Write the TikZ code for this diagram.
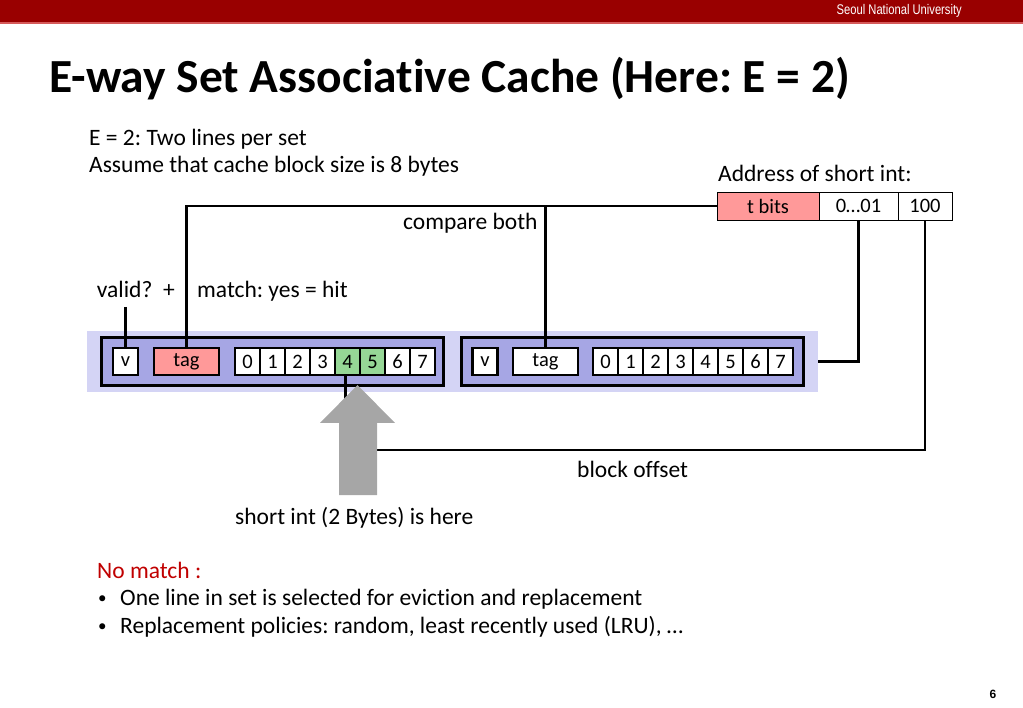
\documentclass[tikz,border=0pt]{standalone}
\usepackage{fontspec}
\setmainfont{Carlito}[Ligatures={NoCommon,NoContextual}]
\newfontfamily\barfont{Liberation Sans}
\usetikzlibrary{calc}

\definecolor{snured}{RGB}{153,0,0}
\definecolor{snulight}{RGB}{214,90,90}
\definecolor{tagred}{RGB}{255,153,153}
\definecolor{hitgreen}{RGB}{150,215,150}
\definecolor{linefill}{RGB}{166,166,228}
\definecolor{setfill}{RGB}{212,212,245}
\definecolor{arrowgray}{RGB}{166,166,166}
\definecolor{missred}{RGB}{192,0,0}

\newcommand\bodyfont{\fontsize{23.5}{28}\selectfont}
\newcommand\cellfont{\fontsize{20.5}{24}\selectfont}
\frenchspacing

\tikzset{
  wire/.style={line width=2.2pt},
  txt/.style={anchor=base west, inner sep=0, font=\bodyfont},
  cell/.style={draw, line width=2.2pt, fill=white, minimum width=25pt,
    minimum height=27pt, inner sep=0, font=\cellfont},
  linebox/.style={draw, line width=3pt, fill=linefill, minimum width=342pt,
    minimum height=48pt, inner sep=0},
  addr/.style={draw, line width=0.8pt, fill=white, minimum height=28pt,
    inner sep=0, font=\cellfont},
}

\begin{document}
\begin{tikzpicture}[x=1pt, y=-1pt]
			%%%%% START %%%%%
			\useasboundingbox (0,0) rectangle (1023,708);
			
			% header bar
			\fill[snured] (0,0) rectangle (1023,22);
			\fill[snulight] (0,22) rectangle (1023,24);
			\node[anchor=east, inner sep=0, text=white] (uni) at (962,11)
				{\scalebox{0.8}[1]{\barfont\fontsize{14}{16}\selectfont Seoul National University}};
			
			\node[anchor=base west, inner sep=0, font=\fontsize{47.5}{50}\selectfont\bfseries] (title) at (49,93)
				{E-way Set Associative Cache (Here: E = 2)};
			
			\node[txt] (lines) at (89,146) {E = 2: Two lines per set};
			\node[txt] (bsize) at (89,173) {Assume that cache block size is 8 bytes};
			
			% address
			\node[txt] (addrlbl) at (718,182) {Address of short int:};
			\node[addr, fill=tagred, minimum width=102pt] (tbits) at (768,206) {t bits};
			\node[addr, minimum width=79pt] (sidx) at (858.5,206) {0\ldots01};
			\node[addr, minimum width=54pt] (boff) at (925,206) {100};
			
			% the set
			\node[fill=setfill, minimum width=731pt, minimum height=61pt, inner sep=0] (set) at (452.5,361.5) {};
			
			\node[linebox] (line1) at (272.5,362) {};
			\node[cell] (v1) at (125.5,361.5) {v};
			\node[cell, fill=tagred, minimum width=65pt] (tag1) at (186.5,361.5) {tag};
			\foreach \i in {0,...,7}
				\node[cell] (a\i) at (247.5+25*\i,361.5) {\i};
			\node[cell, fill=hitgreen] at (a4) {4};
			\node[cell, fill=hitgreen] at (a5) {5};
			
			\node[linebox] (line2) at (632,362) {};
			\node[cell] (v2) at (485,361.5) {v};
			\node[cell, minimum width=65pt] (tag2) at (545.5,361.5) {tag};
			\foreach \i in {0,...,7}
				\node[cell] (b\i) at (605.5+25*\i,361.5) {\i};
			
			% labels
			\node[txt] (cmp) at (403,230) {compare both};
			\node[txt, anchor=base east] (valid) at (175,298) {valid?\ \ +};
			\node[txt] (match) at (197,298) {match: yes = hit};
			\node[txt] (offlbl) at (577,477) {block offset};
			\node[txt] (here) at (235,524) {short int (2 Bytes) is here};
			
			% wires
			\coordinate (validtop) at (125.5,307);
			\draw[wire] (validtop) -- (v1.north);
			\draw[wire] (tbits.west) -| (tag1.north);
			\draw[wire] (tbits.west -| tag2.north) -- (tag2.north);
			\draw[wire] (sidx.south) |- (set.east);
			\coordinate (shaft) at (377,450);
			\draw[wire] (boff.south) |- (shaft);
			\draw[wire] (a4.south) ++(-2,0) -- ++(0,35);
			
			% big gray arrow
			\fill[arrowgray] (339,495) -- (339,423) -- (320,423) -- (357.5,385)
				-- (395,423) -- (377,423) -- (377,495) -- cycle;
			
			% no match
			\node[txt, text=missred] (nomatch) at (97,578) {No match :};
			\node[txt, font=\fontsize{17}{20}\selectfont] (bul1) at (98,603) {\textbullet};
			\node[txt] (evict) at (120,605) {One line in set is selected for eviction and replacement};
			\node[txt, font=\fontsize{17}{20}\selectfont] (bul2) at (98,631) {\textbullet};
			\node[txt] (policy) at (120,633) {Replacement policies: random, least recently used (LRU), \ldots};
			
			\node[inner sep=0, font=\barfont\bfseries\fontsize{12}{14}\selectfont] (page) at (993,694) {6};
			%%%%% END %%%%%
\end{tikzpicture}
\end{document}
